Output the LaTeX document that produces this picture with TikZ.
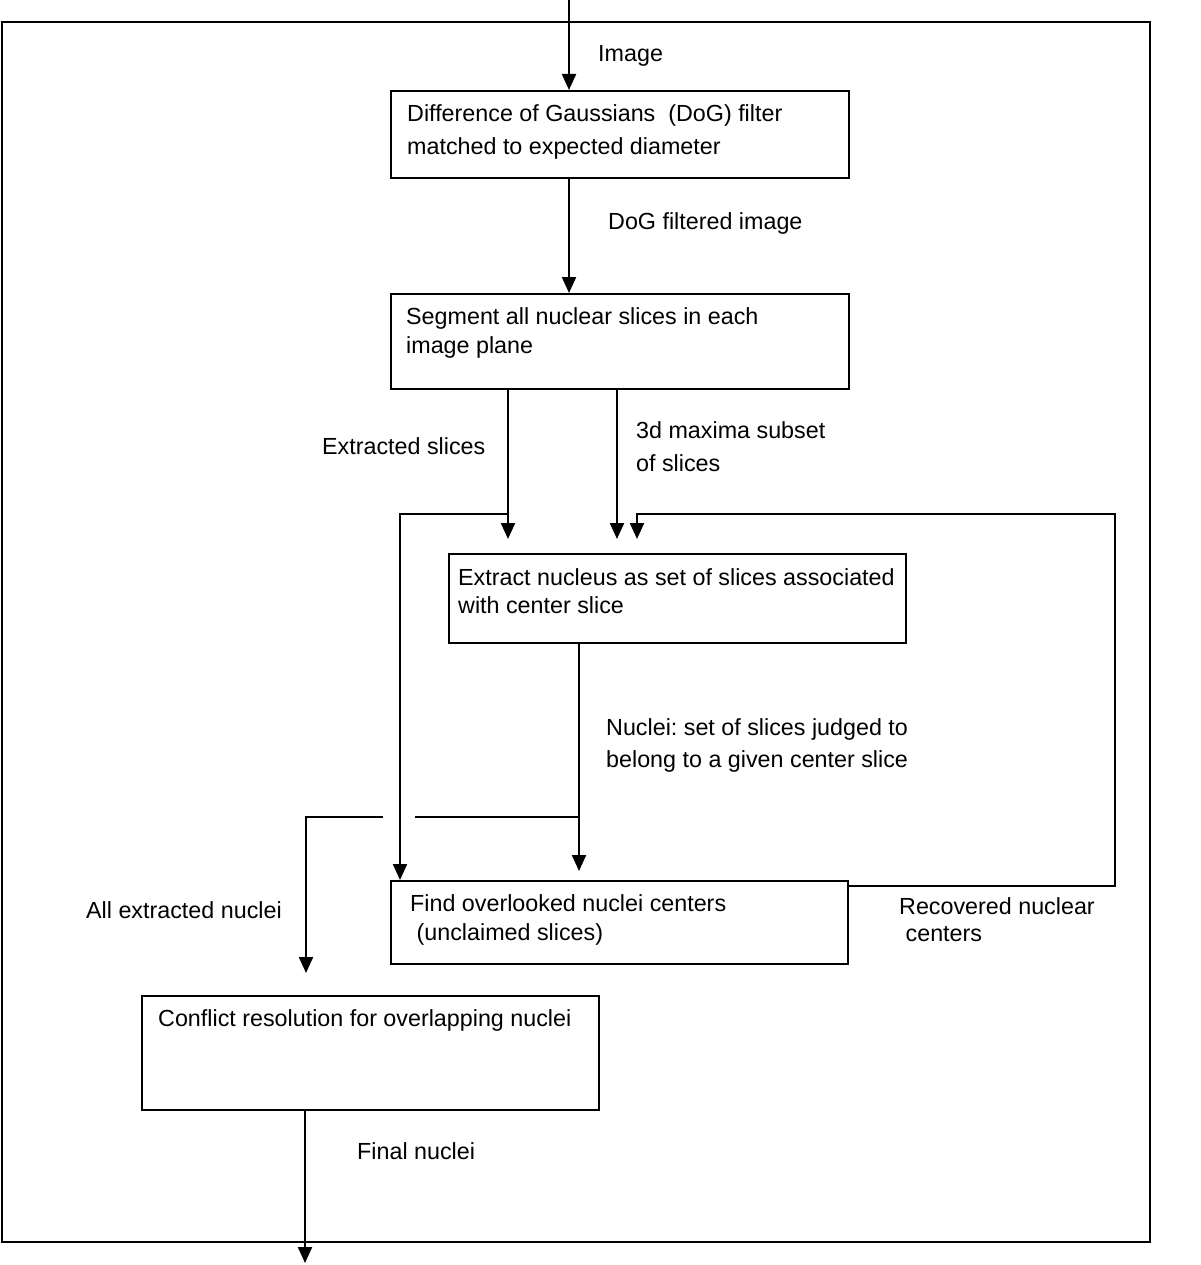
\documentclass[tikz,border=0pt]{standalone}
\usepackage{fontspec}
\setmainfont{Liberation Sans}
\usetikzlibrary{arrows.meta,calc}
\frenchspacing
\begin{document}
\begin{tikzpicture}[x=1pt,y=-1pt,
  box/.style={draw, line width=2pt, inner sep=0pt, anchor=north west},
  lbl/.style={inner sep=0pt, anchor=north west, align=left, font=\fontsize{23.3}{#1}\selectfont},
  lbl/.default=33,
  arr/.style={line width=2.2pt, -{Triangle[length=16pt,width=14pt]}},
  ln/.style={line width=2.2pt}]
\useasboundingbox (0,0) rectangle (1200,1265);
% outer frame
\draw[line width=1.8pt] (2,22) rectangle (1150,1242);
% boxes
\node[box, minimum width=458pt, minimum height=87pt] (b1) at (390,90) {};
\node[box, minimum width=458pt, minimum height=95pt] (b2) at (390,293) {};
\node[box, minimum width=457pt, minimum height=89pt] (b3) at (448,553) {};
\node[box, minimum width=457pt, minimum height=83pt] (b4) at (390,880) {};
\node[box, minimum width=457pt, minimum height=114pt] (b5) at (141,995) {};
% box texts
\node[lbl=33] (t1) at (407,104.5) {Difference of Gaussians\ \ (DoG) filter\\matched to expected diameter};
\node[lbl=29] (t2) at (406,307.5) {Segment all nuclear slices in each\\image plane};
\node[lbl=28] (t3) at (458,568.5) {Extract nucleus as set of slices associated\\with center slice};
\node[lbl=29] (t4) at (410,894.5) {Find overlooked nuclei centers\\\ (unclaimed slices)};
\node[lbl=33] (t5) at (158,1009.5) {Conflict resolution for overlapping nuclei};
% connector labels
\node[lbl=33] (l1) at (598,45.5) {Image};
\node[lbl=33] (l2) at (608,212.5) {DoG filtered image};
\node[lbl=33] (l3) at (322,437.5) {Extracted slices};
\node[lbl=33] (l4) at (636,421.5) {3d maxima subset\\of slices};
\node[lbl=32] (l5) at (606,718.5) {Nuclei: set of slices judged to\\belong to a given center slice};
\node[lbl=27] (l6) at (899,897.5) {Recovered nuclear\\\ centers};
\node[lbl=33] (l7) at (86,901.5) {All extracted nuclei};
\node[lbl=33] (l8) at (357,1142.5) {Final nuclei};
% coordinates
\coordinate (in) at (569,0);
\coordinate (xa) at (508,0);
\coordinate (xb) at (617,0);
\coordinate (xc) at (637,0);
\coordinate (xl) at (400,0);
\coordinate (xn) at (579,0);
\coordinate (j1) at (508,514);
\coordinate (r1) at (1115,886);
\coordinate (r2) at (1115,514);
\coordinate (r3) at (637,514);
\coordinate (j2) at (579,817);
\coordinate (g1) at (415,817);
\coordinate (g2) at (383,817);
\coordinate (k1) at (306,817);
\coordinate (out) at (305,1263);
% connectors
\draw[arr] (in) -- (in |- b1.north);
\draw[arr] (b1.south -| in) -- (b2.north -| in);
\draw[arr, shorten >=14pt] (b2.south -| xa) -- (b3.north -| xa);
\draw[arr, shorten >=14pt] (b2.south -| xb) -- (b3.north -| xb);
\draw[arr] (j1) -- (j1 -| xl) -- (b4.north -| xl);
\draw[arr, shorten >=14pt] (b4.north east |- r1) -- (r1) -- (r2) -- (r3) -- (b3.north -| xc);
\draw[arr, shorten >=9pt] (b3.south -| xn) -- (b4.north -| xn);
\draw[ln] (j2) -- (g1);
\draw[arr, shorten >=22pt] (g2) -- (k1) -- (b5.north -| k1);
\draw[arr] (b5.south -| out) -- (out);
\end{tikzpicture}
\end{document}
